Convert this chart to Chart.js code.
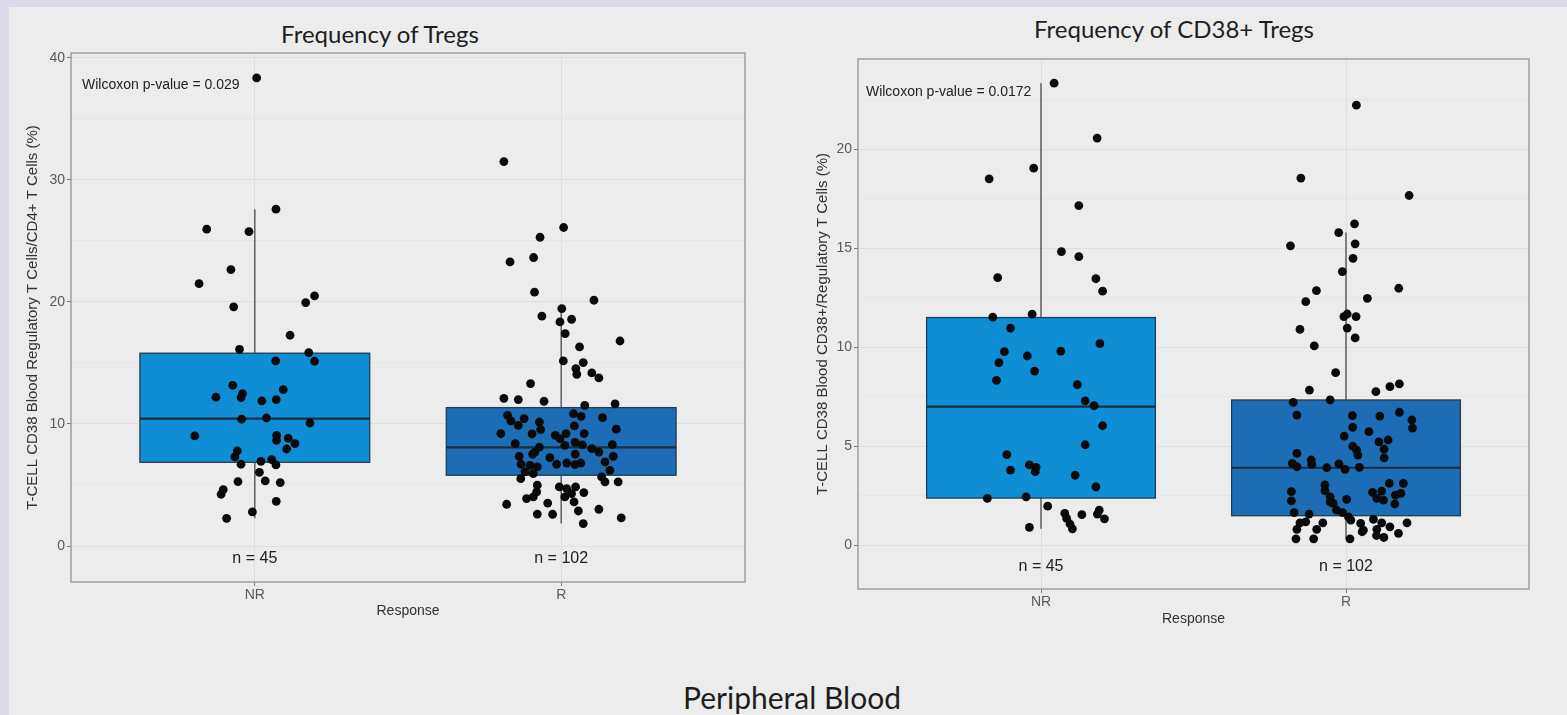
<!DOCTYPE html>
<html>
<head>
<meta charset="utf-8">
<script src="https://cdn.jsdelivr.net/npm/chart.js@4.4.1/dist/chart.umd.min.js"></script>
<style>
body { margin: 0; width: 1567px; height: 715px; background: #ececec; position: relative; overflow: hidden; }
.band-top { position: absolute; left: 0; top: 0; width: 1567px; height: 7px; background: #d9d9e8; }
.band-left { position: absolute; left: 0; top: 0; width: 9px; height: 715px; background: #d9d9e8; }
.title { position: absolute; font-family: Lato, 'Liberation Sans', sans-serif; color: #1e1e1e; white-space: nowrap; transform: translateX(-50%); line-height: 1; }
#tregChart { position: absolute; left: 0; top: 0; }
#cd38Chart { position: absolute; left: 780px; top: 0; }
</style>
</head>
<body>
<div class="band-top"></div>
<div class="band-left"></div>
<div class="title" style="left:380px; top:22px; font-size:24px;">Frequency of Tregs</div>
<div class="title" style="left:1174px; top:17px; font-size:24px;">Frequency of CD38+ Tregs</div>
<div class="title" style="left:792px; top:682px; font-size:30px;">Peripheral Blood</div>
<canvas id="tregChart" width="780" height="640"></canvas>
<canvas id="cd38Chart" width="787" height="645"></canvas>
<script>
const categories = ['NR', 'R']
const nLabels = ['n = 45', 'n = 102']

// left panel: Tregs / CD4+ T cells (%)
const tregNR = [38.36, 27.6, 25.96, 25.77, 22.65, 21.5, 19.95, 20.5, 19.6, 17.27, 16.12, 15.85, 15.14, 15.17, 13.17,
  12.82, 12.49, 12.16, 12.19, 11.89, 12.0, 10.39, 10.49, 10.08, 9.02, 9.07, 8.66, 8.83, 8.39, 7.95, 7.79, 7.3, 6.7,
  6.94, 7.08, 6.64, 6.04, 5.28, 5.33, 5.2, 4.62, 4.24, 3.66, 2.79, 2.27]
const tregNRJitter = [0.006, 0.069, -0.157, -0.019, -0.078, -0.182, 0.166, 0.195, -0.069, 0.115, -0.05, 0.176, 0.195, 0.068, -0.072,
  0.093, -0.04, -0.045, -0.127, 0.023, 0.07, -0.043, 0.038, 0.18, -0.196, 0.071, 0.071, 0.109, 0.131, 0.104, -0.057, -0.065, -0.045,
  0.02, 0.055, 0.069, 0.015, -0.055, 0.034, 0.083, -0.103, -0.11, 0.07, -0.008, -0.092]
const tregR = [31.5, 26.1, 25.3, 23.28, 23.64, 20.8, 20.14, 19.46, 18.83, 18.36, 18.58, 17.41, 16.8, 16.31, 15.17,
  15.03, 14.54, 14.07, 14.18, 13.77, 13.31, 12.1, 12.0, 11.86, 11.53, 11.64, 10.71, 10.25, 10.44, 10.16, 10.85,
  10.63, 10.52, 9.89, 9.21, 9.18, 9.54, 9.84, 9.57, 8.39, 9.07, 9.21, 8.8, 9.21, 8.5, 8.28, 8.25, 8.31, 8.11,
  7.7, 7.98, 7.7, 7.35, 7.52, 7.25, 7.52, 7.35, 6.89, 6.7, 6.61, 6.48, 6.7, 6.8, 6.67, 6.8, 6.2, 6.07, 5.93,
  5.52, 5.66, 5.25, 5.25, 4.98, 4.84, 4.7, 4.84, 4.43, 4.02, 4.3, 4.38, 3.89, 4.02, 3.61, 3.42, 3.52, 2.87,
  3.01, 2.62, 2.6, 2.3, 1.84]
const tregRJitter = [-0.187, 0.008, -0.069, -0.167, -0.09, -0.087, 0.107, 0.002, -0.063, -0.004, 0.034, 0.013, 0.192, 0.06, 0.007,
  0.072, 0.048, 0.051, 0.1, 0.123, -0.1, -0.187, -0.14, -0.056, 0.077, 0.176, -0.175, -0.164, -0.121, -0.071, 0.04,
  0.065, 0.135, -0.14, -0.197, -0.095, -0.067, 0.043, 0.18, -0.15, -0.019, 0.016, -0.004, 0.075, 0.045, 0.069, 0.012, 0.167, -0.071,
  -0.086, 0.1, 0.123, -0.137, -0.093, -0.037, 0.046, 0.17, 0.143, -0.131, -0.102, -0.078, -0.015, 0.018, 0.045, 0.064, 0.159, -0.118, -0.091,
  -0.132, 0.132, 0.143, 0.186, -0.078, -0.006, 0.018, 0.047, -0.08, 0.012, 0.034, 0.074, -0.113, -0.091, 0.042, -0.178, -0.044, 0.056,
  0.123, -0.078, -0.028, 0.196, 0.072]
const tregWhiskerLow = [2.27, 1.84]
const tregQ1 = [6.86, 5.8]
const tregMedian = [10.44, 8.09]
const tregQ3 = [15.8, 11.34]
const tregWhiskerHigh = [27.6, 19.46]
const tregTicks = [0, 10, 20, 30, 40]
const tregMinorTicks = [5, 15, 25, 35]

// right panel: CD38+ / Tregs (%)
const cd38NR = [23.33, 20.56, 19.04, 18.5, 17.15, 14.83, 14.58, 13.52, 13.46, 12.83, 11.52, 11.67, 10.96, 10.18, 9.78,
  9.56, 9.81, 9.22, 8.8, 8.33, 8.11, 7.3, 7.05, 6.04, 5.08, 4.58, 4.06, 3.94, 3.8, 3.72, 3.54, 2.96, 2.37, 2.45,
  1.98, 1.62, 1.36, 1.08, 0.84, 1.55, 1.78, 1.58, 1.34, 0.91]
const cd38NRJitter = [0.043, 0.184, -0.024, -0.17, 0.124, 0.067, 0.124, -0.142, 0.18, 0.202, -0.158, -0.029, -0.1, 0.193, -0.12,
  -0.045, 0.065, -0.138, -0.021, -0.146, 0.119, 0.145, 0.174, 0.202, 0.145, -0.112, -0.038, -0.016, -0.1, -0.019, 0.112, 0.18, -0.176, -0.049,
  0.022, 0.078, 0.084, 0.095, 0.103, 0.134, 0.191, 0.185, 0.208, -0.038]
const cd38R = [22.22, 18.54, 17.66, 16.23, 15.79, 15.12, 15.22, 14.49, 13.82, 12.98, 12.86, 12.3, 12.47, 11.55, 11.68,
  11.55, 10.9, 10.97, 10.47, 10.07, 8.72, 7.84, 7.76, 8.01, 8.15, 7.34, 7.22, 6.58, 6.55, 6.53, 6.72, 6.33, 5.92,
  5.96, 5.74, 5.52, 5.23, 5.32, 5.01, 4.81, 4.86, 4.56, 4.42, 4.65, 4.31, 4.14, 3.97, 4.09, 3.92, 4.11, 3.84,
  3.94, 3.05, 2.76, 2.71, 2.25, 2.45, 2.2, 2.12, 2.32, 1.78, 1.65, 1.44, 1.28, 3.13, 3.13, 2.68, 2.74, 2.37,
  2.29, 2.54, 2.63, 2.09, 1.65, 1.58, 1.14, 1.19, 1.14, 0.81, 0.81, 1.31, 1.14, 1.11, 0.77, 0.81, 0.94, 0.61,
  1.14, 0.33, 0.33, 0.33, 0.5, 0.4, 0.69]
const cd38RJitter = [0.034, -0.148, 0.207, 0.028, -0.024, -0.182, 0.03, 0.023, -0.012, 0.173, -0.097, -0.132, 0.07, -0.007, 0.004,
  0.033, -0.151, 0.004, 0.03, -0.104, -0.034, -0.12, 0.098, 0.144, 0.175, -0.052, -0.173, -0.161, 0.021, 0.111, 0.175, 0.216, 0.218,
  0.022, 0.075, -0.006, 0.108, 0.138, 0.022, 0.035, 0.125, 0.039, 0.125, -0.161, -0.114, -0.176, -0.161, -0.112, -0.063, -0.023, -0.003,
  0.044, -0.069, -0.069, -0.179, -0.179, -0.052, -0.052, -0.042, 0.002, -0.031, -0.011, 0.008, 0.016, 0.142, 0.188, 0.087, 0.117, 0.101,
  0.123, 0.162, 0.18, 0.16, -0.17, -0.121, -0.151, -0.132, -0.076, -0.096, -0.161, 0.09, 0.117, 0.048, 0.057, 0.101, 0.144, 0.172,
  0.2, -0.164, -0.106, 0.013, 0.1, 0.124, 0.053]
const cd38WhiskerLow = [0.84, 0.33]
const cd38Q1 = [2.39, 1.5]
const cd38Median = [7.0, 3.92]
const cd38Q3 = [11.5, 7.34]
const cd38WhiskerHigh = [23.33, 15.79]
const cd38Ticks = [0, 5, 10, 15, 20]
const cd38MinorTicks = [2.5, 7.5, 12.5, 17.5, 22.5]

const boxColors = ['#0f8ed6', '#1c6db5']
const sansFont = "'Liberation Sans', Arial, sans-serif"

function toPoints(values, jitter, pos) {
  return values.map((v, i) => ({x: pos + jitter[i], y: v}))
}

// boxes, whiskers, medians, n labels, p-value and panel frame
function boxPlugin(s) {
  return {
    id: 'boxes',
    beforeDatasetsDraw(chart) {
      let ctx = chart.ctx, area = chart.chartArea
      let x = chart.scales.x, y = chart.scales.y
      ctx.save()
      for (let i = 0; i < categories.length; i++) {
        let cx = x.getPixelForValue(i + 1)
        let left = x.getPixelForValue(i + 1 - 0.375)
        let right = x.getPixelForValue(i + 1 + 0.375)
        let top = y.getPixelForValue(s.q3[i]), bottom = y.getPixelForValue(s.q1[i])
        ctx.strokeStyle = '#4a4a4a'
        ctx.lineWidth = 1.3
        ctx.beginPath()
        ctx.moveTo(cx, y.getPixelForValue(s.high[i]))
        ctx.lineTo(cx, top)
        ctx.moveTo(cx, bottom)
        ctx.lineTo(cx, y.getPixelForValue(s.low[i]))
        ctx.stroke()
        ctx.fillStyle = boxColors[i]
        ctx.fillRect(left, top, right - left, bottom - top)
        ctx.strokeStyle = '#1f3d52'
        ctx.lineWidth = 1.3
        ctx.strokeRect(left, top, right - left, bottom - top)
        let med = y.getPixelForValue(s.median[i])
        ctx.strokeStyle = '#182c3a'
        ctx.lineWidth = 2.2
        ctx.beginPath()
        ctx.moveTo(left, med)
        ctx.lineTo(right, med)
        ctx.stroke()
        ctx.fillStyle = '#222'
        ctx.font = '16px ' + sansFont
        ctx.textAlign = 'center'
        ctx.textBaseline = 'middle'
        ctx.fillText(nLabels[i], cx, y.getPixelForValue(-1.05))
      }
      ctx.fillStyle = '#222'
      ctx.font = '14px ' + sansFont
      ctx.textAlign = 'left'
      ctx.textBaseline = 'middle'
      ctx.fillText(s.pText, x.getPixelForValue(s.pX), y.getPixelForValue(s.pY))
      ctx.strokeStyle = '#9a9a9a'
      ctx.lineWidth = 1.4
      ctx.strokeRect(area.left, area.top, area.right - area.left, area.bottom - area.top)
      ctx.restore()
    }
  }
}

function makeChart(id, s) {
  let ticks = s.ticks.concat(s.minor).sort((a, b) => a - b)
  return new Chart(document.getElementById(id), {
    type: 'scatter',
    data: {
      datasets: [
        {data: toPoints(s.nr, s.nrJitter, 1)},
        {data: toPoints(s.r, s.rJitter, 2)}
      ]
    },
    options: {
      responsive: false,
      animation: false,
      events: [],
      layout: {padding: s.padding},
      elements: {point: {radius: 4.4, backgroundColor: '#0a0a0a', borderWidth: 0}},
      plugins: {legend: {display: false}, tooltip: {enabled: false}},
      scales: {
        x: {
          type: 'linear', min: 0.4, max: 2.6,
          afterBuildTicks: a => { a.ticks = categories.map((c, i) => ({value: i + 1})) },
          afterFit: a => { a.height = 45 },
          ticks: {autoSkip: false, maxRotation: 0, padding: 1, color: '#5a5a5a', font: {family: sansFont, size: 14},
            callback: v => categories[v - 1]},
          grid: {color: '#dedede', tickColor: '#777', tickLength: 4},
          border: {display: false},
          title: {display: true, text: 'Response', color: '#333', font: {family: sansFont, size: 14},
            padding: {top: 0, bottom: s.xTitlePad}}
        },
        y: {
          min: s.min, max: s.max,
          afterBuildTicks: a => { a.ticks = ticks.map(v => ({value: v})) },
          afterFit: a => { a.width = s.yWidth },
          ticks: {autoSkip: false, padding: 2, color: '#5a5a5a', font: {family: sansFont, size: 14},
            callback: v => s.ticks.includes(v) ? v : ''},
          grid: {
            color: c => c.tick && s.ticks.includes(c.tick.value) ? '#dedede' : '#e5e5e5',
            tickColor: c => c.tick && s.ticks.includes(c.tick.value) ? '#777' : 'rgba(0,0,0,0)',
            tickLength: 4
          },
          border: {display: false},
          title: {display: true, text: s.yTitle, color: '#333', font: {family: sansFont, size: 15},
            padding: {top: s.yTitlePad, bottom: 0}}
        }
      }
    },
    plugins: [boxPlugin(s)]
  })
}

makeChart('tregChart', {
  nr: tregNR, nrJitter: tregNRJitter, r: tregR, rJitter: tregRJitter,
  low: tregWhiskerLow, q1: tregQ1, median: tregMedian, q3: tregQ3, high: tregWhiskerHigh,
  ticks: tregTicks, minor: tregMinorTicks, min: -2.95, max: 40.4,
  yTitle: 'T-CELL CD38 Blood Regulatory T Cells/CD4+ T Cells (%)',
  pText: 'Wilcoxon p-value = 0.029', pX: 0.436, pY: 37.8,
  padding: {top: 53, right: 35, bottom: 13, left: 0}, yWidth: 71, yTitlePad: 23.5, xTitlePad: 7.8
})

makeChart('cd38Chart', {
  nr: cd38NR, nrJitter: cd38NRJitter, r: cd38R, rJitter: cd38RJitter,
  low: cd38WhiskerLow, q1: cd38Q1, median: cd38Median, q3: cd38Q3, high: cd38WhiskerHigh,
  ticks: cd38Ticks, minor: cd38MinorTicks, min: -2.2, max: 24.55,
  yTitle: 'T-CELL CD38 Blood CD38+/Regulatory T Cells (%)',
  pText: 'Wilcoxon p-value = 0.0172', pX: 0.426, pY: 22.9,
  padding: {top: 59, right: 38, bottom: 11, left: 0}, yWidth: 78, yTitlePad: 34, xTitlePad: 6.8
})
</script>
</body>
</html>
